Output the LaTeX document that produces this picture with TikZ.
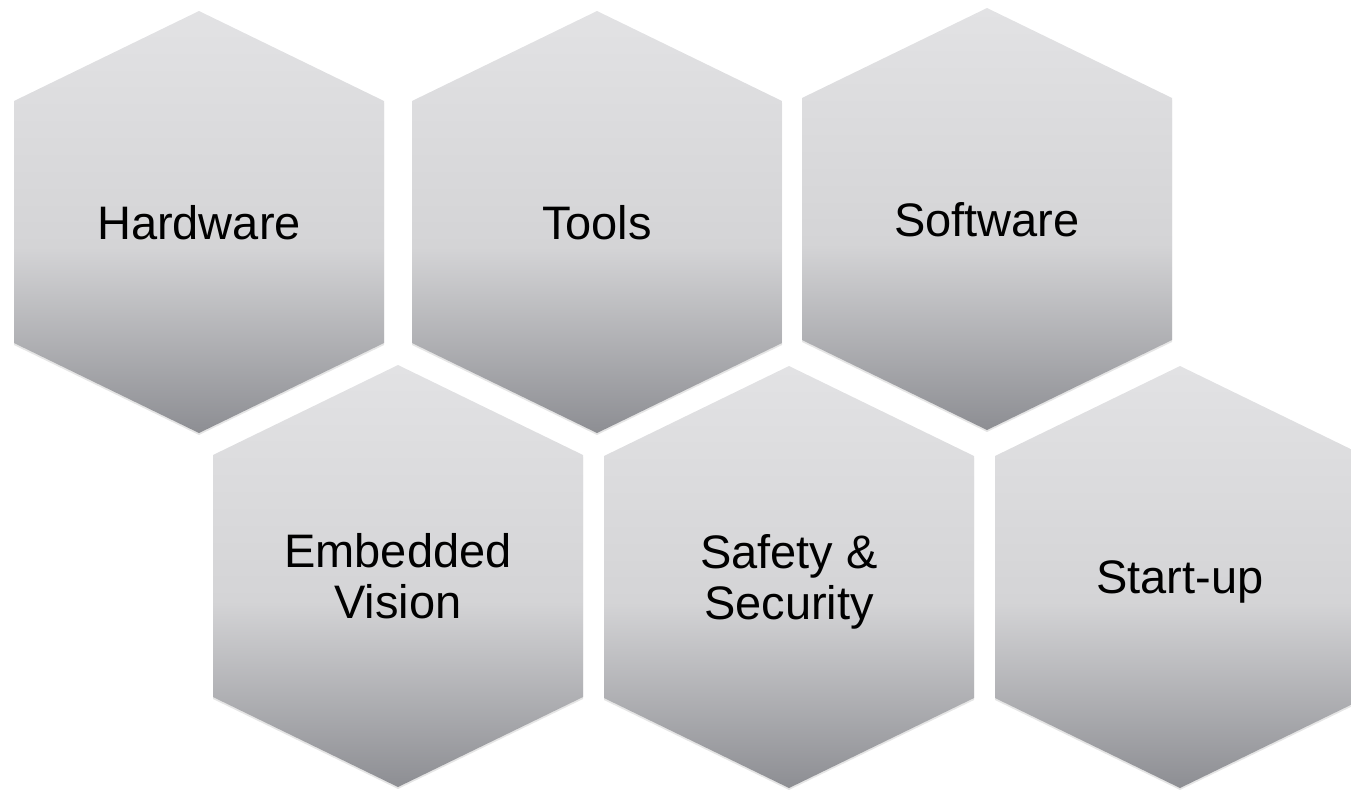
\documentclass[tikz,border=0pt]{standalone}
\usepackage{fontspec}
\setmainfont{Liberation Sans}

\definecolor{hexTop}{HTML}{E2E2E4}
\definecolor{hexMid}{HTML}{D4D4D6}
\definecolor{hexBottom}{HTML}{8D8E93}
\pgfdeclareverticalshading{hexFade}{100bp}{color(0bp)=(hexBottom); color(25bp)=(hexBottom); color(47bp)=(hexMid); color(75bp)=(hexTop); color(100bp)=(hexTop)}

\def\hexHalfWidth{185}
\def\hexHalfHeight{211}
\def\hexShoulder{121}
\def\hexPath{(\cx,\cy-\hexHalfHeight) -- (\cx+\hexHalfWidth,\cy-\hexShoulder) -- (\cx+\hexHalfWidth,\cy+\hexShoulder) -- (\cx,\cy+\hexHalfHeight) -- (\cx-\hexHalfWidth,\cy+\hexShoulder) -- (\cx-\hexHalfWidth,\cy-\hexShoulder) -- cycle}

\begin{document}
\begin{tikzpicture}[x=0.75pt,y=-0.75pt,
        hexFace/.style={shading=hexFade},
        hexShadow/.style={fill=black,opacity=0.10,yshift=-1.5pt},
        hexLabel/.style={align=center,inner sep=0pt,text depth=0pt,font=\fontsize{35.25}{38.5}\selectfont}]
    \useasboundingbox (0,0) rectangle (1351,789);

    \foreach \cx/\cy/\name/\txt in {199/222/hardware/Hardware,
            597/222/tools/Tools,
            987/219/software/Software,
            398/576/vision/{Embedded\\Vision},
            789/577/safety/{Safety \&\\Security},
            1180/577/startup/Start-up}{%
            \fill [hexShadow] \hexPath;
            \shade [hexFace] \hexPath;
            \node [hexLabel] (\name) at (\cx,\cy) {\txt};
        }
\end{tikzpicture}
\end{document}
